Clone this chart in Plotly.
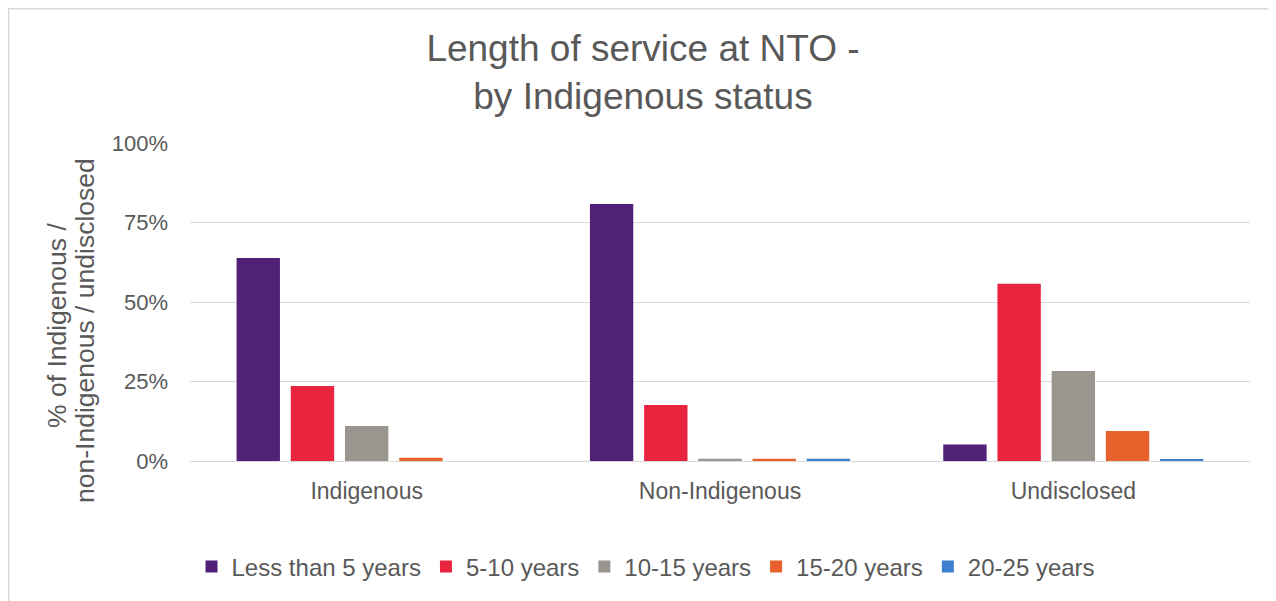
import plotly.graph_objects as go

categories = ["Indigenous", "Non-Indigenous", "Undisclosed"]
series_names = ["Less than 5 years", "5-10 years", "10-15 years", "15-20 years", "20-25 years"]
less_than_5 = [63.8, 80.8, 5.2]
y5_10 = [23.6, 17.6, 55.7]
y10_15 = [11.0, 0.7, 28.3]
y15_20 = [1.0, 0.7, 9.4]
y20_25 = [0.0, 0.7, 0.6]
series_values = [less_than_5, y5_10, y10_15, y15_20, y20_25]
colors = ["#512178", "#e8243f", "#9b958f", "#e8602b", "#3c80cf"]
tick_vals = [0, 25, 50, 75, 100]
tick_text = ["0%", "25%", "50%", "75%", "100%"]
y_title_lines = ["% of Indigenous /", "non-Indigenous / undisclosed"]

FONT = "Liberation Sans, Arial, sans-serif"
TXT = "#595959"

fig = go.Figure()
for name, vals, col in zip(series_names, series_values, colors):
    fig.add_trace(go.Bar(x=categories, y=vals, name=name, marker=dict(color=col, line=dict(width=0))))

# page places the figure at an 8px offset; work in screen coordinates
OFF = 8
W, H = 1276 - OFF, 601 - OFF
L, R, T, B = 190 - OFF, 26, 143 - OFF, 601 - 461
pw, ph = W - L - R, H - T - B

def px_x(sx):
    return (sx - OFF - L) / pw

def px_y(sy):
    return (H - B - (sy - OFF)) / ph

fig.update_layout(
    width=W, height=H,
    margin=dict(l=L, r=R, t=T, b=B, autoexpand=False),
    paper_bgcolor="white", plot_bgcolor="white",
    barmode="group", bargap=0.233, bargroupgap=0.2,
    font=dict(family=FONT, color=TXT, size=22),
    title=dict(text="Length of service at NTO -<br>by Indigenous status",
               x=(643 - OFF) / W, xanchor="center", xref="container",
               y=1 - 53 / H, yanchor="middle", yref="container",
               font=dict(size=37, color=TXT, family=FONT)),
    showlegend=True,
    legend=dict(orientation="h", x=px_x(646), xanchor="center", y=px_y(567), yanchor="middle",
                font=dict(size=24, color=TXT), traceorder="normal"),
    xaxis=dict(showgrid=False, showline=False, ticks="", tickfont=dict(size=23, color=TXT),
               ticklabelstandoff=14),
    yaxis=dict(range=[0, 100], tickvals=tick_vals, ticktext=tick_text, showgrid=True,
               gridcolor="#d9d9d9", gridwidth=1, zeroline=True, zerolinecolor="#d9d9d9",
               zerolinewidth=1, showline=False, ticks="", tickfont=dict(size=22, color=TXT),
               ticklabelstandoff=21),
)

for line_text, sx, sy in zip(y_title_lines, [57, 85], [326, 331]):
    fig.add_annotation(text=line_text, textangle=-90, xref="paper", yref="paper",
                       x=px_x(sx), y=px_y(sy), xanchor="center", yanchor="middle",
                       showarrow=False, font=dict(size=26.5, color=TXT, family=FONT))

fig.add_shape(type="rect", xref="paper", yref="paper",
              x0=px_x(OFF + 0.75), x1=px_x(1275), y0=px_y(610), y1=px_y(OFF + 0.75),
              line=dict(color="#d9d9d9", width=1.5), fillcolor="rgba(0,0,0,0)", layer="below")

fig.write_html("out.html")
